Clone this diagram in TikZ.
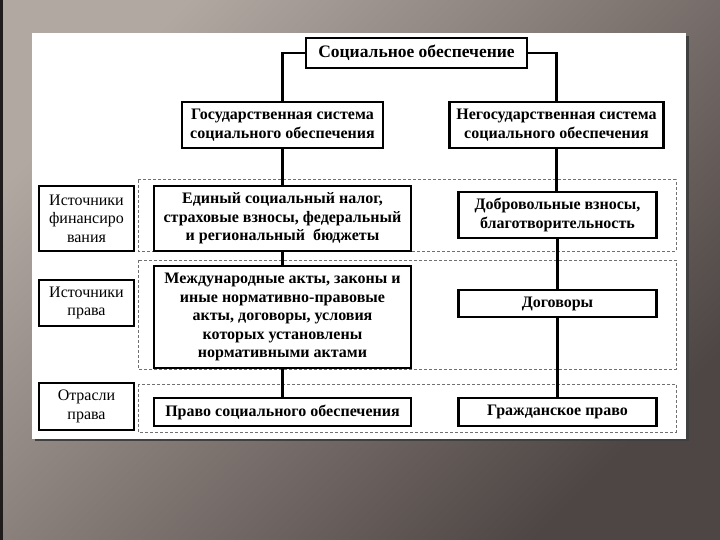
\documentclass[tikz,border=0pt]{standalone}
\usepackage{fontspec}
\setmainfont{Liberation Serif}[BoldFont={Liberation Serif Bold}]
\usepackage{tikz}
\usetikzlibrary{calc}
\definecolor{bgLight}{HTML}{B2A8A2}
\definecolor{bgMid}{HTML}{6A625E}
\definecolor{bgDark}{HTML}{4E4644}
\definecolor{groupGray}{HTML}{707070}

\begin{document}
\begin{tikzpicture}[
    x=1pt, y=-1pt,
    box/.style={rectangle, draw, line width=2.6pt, fill=white, align=center, inner sep=1pt, font=\fontsize{16}{18.5}\selectfont\bfseries},
    sidebox/.style={rectangle, draw, line width=2.6pt, fill=white, align=center, inner sep=1pt, minimum width=95pt, font=\fontsize{16}{18.5}\selectfont},
    group/.style={draw=groupGray, line width=1pt, dash pattern=on 3pt off 2pt},
    link/.style={line width=2.2pt}
]
\useasboundingbox (0,0) rectangle (720,540);

% Background and sheet
\shade[top color=bgLight, middle color=bgMid, bottom color=bgDark, shading angle=45] (0,0) rectangle (720,540);
\fill[black!60!bgDark] (0,0) rectangle (3,540);
\fill[black!75] (35,36) rectangle (689,441);
\fill[white] (32,33) rectangle (686,439);

% Dashed rows
\draw[group] (138,180) rectangle (676,251);
\draw[group] (138,260) rectangle (676,369);
\draw[group] (138,384) rectangle (676,432);

% Nodes
\node[box, minimum width=221pt, minimum height=30pt, font=\fontsize{17.5}{20}\selectfont\bfseries] (soc) at (416.5,53) {Социальное обеспечение};
\node[box, minimum width=201pt, minimum height=46pt] (gos) at (282.5,125) {Государственная система\\социального обеспечения};
\node[box, minimum width=214pt, minimum height=46pt] (negos) at (556.5,125) {Негосударственная система\\социального обеспечения};

\node[sidebox, minimum height=65pt] (finlab) at (86.5,218.5) {Источники\\финансиро\\вания};
\node[sidebox, minimum height=46pt] (pravlab) at (86.5,303) {Источники\\права};
\node[sidebox, minimum height=47pt] (otrlab) at (86.5,406.5) {Отрасли\\права};

\node[box, minimum width=257pt, minimum height=65pt] (edin) at (282.5,218.5) {Единый социальный налог,\\страховые взносы, федеральный\\и региональный\ \ бюджеты};
\node[box, minimum width=257pt, minimum height=102pt] (mezh) at (282.5,317) {Международные акты, законы и\\иные нормативно-правовые\\акты, договоры, условия\\которых установлены\\нормативными актами};
\node[box, minimum width=257pt, minimum height=28pt] (pravo) at (282.5,412) {Право социального обеспечения};

\node[box, minimum width=198pt, minimum height=46pt] (dobr) at (557.5,215) {Добровольные взносы,\\благотворительность};
\node[box, minimum width=198pt, minimum height=27pt] (dogov) at (557.5,303.5) {Договоры};
\node[box, minimum width=198pt, minimum height=28pt] (grazh) at (557.5,412) {Гражданское право};

% Tree links
\draw[link] (soc.west) -| (gos.north);
\draw[link] (soc.east) -| (negos.north);
\draw[link] (gos) -- (edin);
\draw[link] (edin) -- (mezh);
\draw[link] (mezh) -- (pravo);
\draw[link] (negos.south) -- (negos.south |- dobr.north);
\draw[link] (dobr) -- (dogov);
\draw[link] (dogov) -- (grazh);

\end{tikzpicture}
\end{document}
